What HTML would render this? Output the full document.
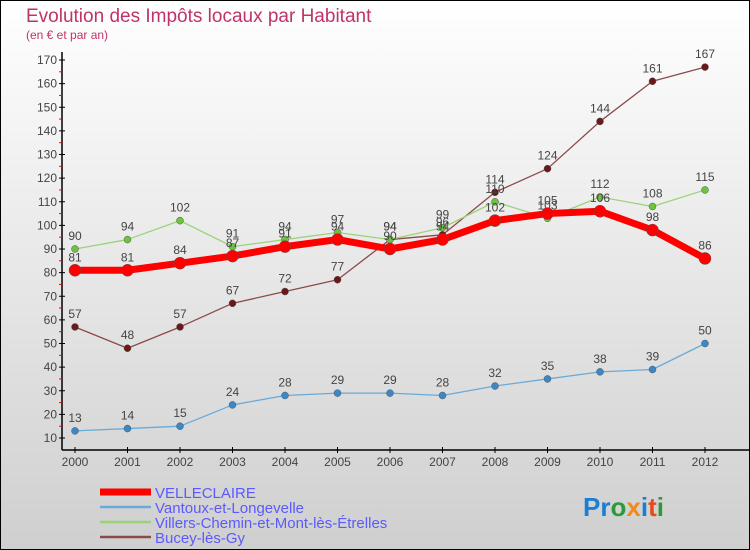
<!DOCTYPE html>
<html><head><meta charset="utf-8"><style>
body{margin:0;}
#c{position:relative;width:750px;height:550px;overflow:hidden;font-family:"Liberation Sans",sans-serif;}
svg{position:absolute;left:0;top:0;}
</style></head><body>
<div id="c">
<svg id="s" width="750" height="550" xmlns="http://www.w3.org/2000/svg">
<defs><linearGradient id="bg" x1="0" y1="0" x2="0" y2="1"><stop offset="0" stop-color="#ffffff"/><stop offset="1" stop-color="#cfcfcf"/></linearGradient></defs>
<rect x="0.5" y="0.5" width="749" height="549" fill="url(#bg)" stroke="#000"/>
<text x="26" y="22" font-size="19" fill="#c0336a">Evolution des Impôts locaux par Habitant</text>
<text x="26" y="39" font-size="12" fill="#c0336a">(en € et par an)</text>
<g id="axes"></g>
<g id="series"></g>
<g id="legend"></g>
<text x="583" y="516" font-size="26" font-weight="bold"><tspan fill="#1a7fd4">Pr</tspan><tspan fill="#2a9a3a">o</tspan><tspan fill="#f08a1c">x</tspan><tspan fill="#1a7fd4">i</tspan><tspan fill="#e84a1c">t</tspan><tspan fill="#2a9a3a">i</tspan></text>
</svg>
</div>
<script>
const years=[2000,2001,2002,2003,2004,2005,2006,2007,2008,2009,2010,2011,2012];
const yTicks=[10,20,30,40,50,60,70,80,90,100,110,120,130,140,150,160,170];
const velleclaire=[81,81,84,87,91,94,90,94,102,105,106,98,86];
const vantoux=[13,14,15,24,28,29,29,28,32,35,38,39,50];
const villers=[90,94,102,91,94,97,94,99,110,103,112,108,115];
const bucey=[57,48,57,67,72,77,94,96,114,124,144,161,167];
const NS="http://www.w3.org/2000/svg";
function X(i){return 75+i*52.5;}
function Y(v){return 438-(v-10)*2.3625;}
function mk(t,a,p){const e=document.createElementNS(NS,t);for(const k in a)e.setAttribute(k,a[k]);p.appendChild(e);return e;}
const ax=document.getElementById('axes');
let e=mk('line',{x1:62,y1:52,x2:62,y2:450,stroke:'#000','stroke-width':1.5},ax);


e=mk('line',{x1:62,y1:450,x2:750,y2:450,stroke:'#000','stroke-width':1.5},ax);


yTicks.forEach(v=>{
 mk('line',{x1:59,y1:Y(v),x2:65,y2:Y(v),stroke:'#000'},ax);
 if(v<170)mk('line',{x1:59,y1:Y(v+5),x2:62,y2:Y(v+5),stroke:'#f00'},ax);
 const t=mk('text',{x:57,y:Y(v)+4,'font-size':12,'text-anchor':'end',fill:'#444'},ax);
 t.textContent=v;
 
 
});
years.forEach((y,i)=>{
 mk('line',{x1:X(i),y1:447,x2:X(i),y2:453,stroke:'#000'},ax);
 const t=mk('text',{x:X(i),y:466,'font-size':12,'text-anchor':'middle',fill:'#444'},ax);
 t.textContent=y;
 
 
});
const sg=document.getElementById('series');
function series(name,data,col,dot,w,r){
 const g=mk('g',{},sg);
 
 
 const pts=data.map((v,i)=>X(i)+','+Y(v)).join(' ');
 const l=mk('polyline',{points:pts,fill:'none',stroke:col,'stroke-width':w,'stroke-linejoin':'round'},g);
 
 
 data.forEach((v,i)=>{
  const c=mk('circle',{cx:X(i),cy:Y(v),r:r,fill:dot,stroke:'#555','stroke-width':0.5},g);
  
  
  const t=mk('text',{x:X(i),y:Y(v)-9,'font-size':12,'text-anchor':'middle',fill:'#444'},g);
  t.textContent=v;
  
  
 });
}
series('bucey',bucey,'#8b4a4a','#6a1818',1.3,3.5);
series('villers',villers,'#9ad47a','#6cc43c',1.3,3.5);
series('vantoux',vantoux,'#6aaad8','#3a88c8',1.3,3.5);
series('velleclaire',velleclaire,'#f00','#f00',7,6);
const lg=document.getElementById('legend');
const items=[['VELLECLAIRE','#f00',7],['Vantoux-et-Longevelle','#6aaad8',2.5],['Villers-Chemin-et-Mont-lès-Étrelles','#9ad47a',2.5],['Bucey-lès-Gy','#8b4a4a',2.5]];
items.forEach((it,i)=>{
 const y=492+i*15;
 const g=mk('g',{},lg);
 
 
 mk('line',{x1:100,y1:y,x2:151,y2:y,stroke:it[1],'stroke-width':it[2]},g);
 const t=mk('text',{x:155,y:y+6,'font-size':15,fill:'#5a5aff'},g);
 t.textContent=it[0];
});
</script>
</body></html>
